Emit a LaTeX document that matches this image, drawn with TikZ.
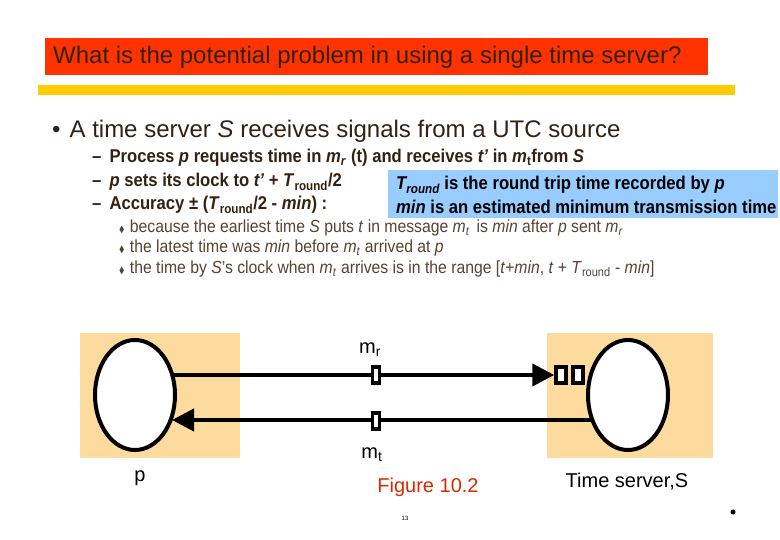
\documentclass[tikz,border=0pt]{standalone}
\usepackage{amssymb}
\usepackage{fontspec}
\setmainfont{Liberation Sans}
\usetikzlibrary{arrows.meta,shapes.geometric}
\definecolor{titlered}{HTML}{FF3300}
\definecolor{baryel}{HTML}{FFCC00}
\definecolor{txtbrown}{HTML}{332211}
\definecolor{bluebox}{HTML}{99CCFF}
\definecolor{tan}{HTML}{FDDB9E}
\definecolor{greytxt}{HTML}{554433}
\begin{document}
\begin{tikzpicture}[x=1pt,y=-1pt,
  sub/.style={anchor=west,inner sep=0,font=\fontsize{18.5}{20}\selectfont\bfseries,text=txtbrown,xscale=0.9,transform shape},
  subsub/.style={anchor=west,inner sep=0,font=\fontsize{17.5}{19}\selectfont,text=greytxt,xscale=0.9,transform shape},
  lbl/.style={inner sep=0,font=\fontsize{20}{24}\selectfont},
  msg/.style={draw,line width=3.5pt,fill=white,minimum width=7pt,minimum height=16pt,inner sep=0},
  proc/.style={draw,line width=4pt,fill=white,ellipse,minimum width=80pt,minimum height=110pt},
  conn/.style={line width=4pt,-{Triangle[length=22pt,width=22pt]}}]
\useasboundingbox (0,0) rectangle (780,540);
\fill[white] (0,0) rectangle (780,540);
\fill[titlered] (45,38) rectangle (708,75);
\node[anchor=west,inner sep=0,font=\fontsize{24}{28}\selectfont,text=txtbrown] (title) at (53,57) {What is the potential problem in using a single time server?};
\fill[baryel] (38,85) rectangle (735,95);
\node[anchor=west,inner sep=0,font=\fontsize{24}{28}\selectfont,text=txtbrown] (b1) at (52,131) {\textbullet\hspace{9pt}A time server \textit{S} receives signals from a UTC source};
\node[sub] (s1) at (92,158) {–\hspace{9pt}Process \textit{p} requests time in \textit{m}\textsubscript{\textit{r}} (t) and receives \textit{t'} in \textit{m}\textsubscript{t}from \textit{S}};
\node[sub] (s2) at (92,182) {–\hspace{9pt}\textit{p} sets its clock to \textit{t'} + \textit{T}\textsubscript{round}/2};
\node[sub] (s3) at (92,205) {–\hspace{9pt}Accuracy ± (\textit{T}\textsubscript{round}/2 - \textit{min}) :};
\fill[bluebox] (388,170) rectangle (778,218);
\node[sub,text=black] (n1) at (396,185) {\textit{T\textsubscript{round}} is the round trip time recorded by \textit{p}};
\node[sub,text=black] (n2) at (396,207) {\textit{min} is an estimated minimum transmission time};
\node[subsub] (t1) at (119,228) {\small$\blacklozenge$\hspace{6pt}\fontsize{17.5}{19}\selectfont because the earliest time \textit{S} puts \textit{t} in message \textit{m}\textsubscript{\textit{t}}\, is \textit{min} after \textit{p} sent \textit{m}\textsubscript{\textit{r}}};
\node[subsub] (t2) at (119,248) {\small$\blacklozenge$\hspace{6pt}\fontsize{17.5}{19}\selectfont the latest time was \textit{min} before \textit{m}\textsubscript{\textit{t}} arrived at \textit{p}};
\node[subsub] (t3) at (119,269) {\small$\blacklozenge$\hspace{6pt}\fontsize{17.5}{19}\selectfont the time by \textit{S}'s clock when \textit{m}\textsubscript{\textit{t}} arrives is in the range [\textit{t}+\textit{min}, \textit{t} + \textit{T}\textsubscript{round} - \textit{min}]};
\fill[tan] (80,333) rectangle (240,458);
\fill[tan] (547,333) rectangle (713,458);
\node[proc] (p) at (135,395) {};
\node[proc] (s) at (628,395) {};
\node[draw,line width=3.5pt,fill=white,minimum width=10pt,minimum height=16pt,inner sep=0] (q1) at (561,375) {};
\node[draw,line width=3.5pt,fill=white,minimum width=10pt,minimum height=16pt,inner sep=0] (q2) at (578,375) {};
\coordinate (pr) at (172,375);
\coordinate (sl) at (592,420);
\coordinate (pl) at (172,420);
\draw[conn] (pr) -- (q1.west);
\draw[conn] (sl) -- (pl);
\node[msg] (mr) at (376,375) {};
\node[msg] (mt) at (376,421) {};
\node[lbl] (lmr) at (370,350) {m\textsubscript{r}};
\node[lbl] (lmt) at (372,455) {m\textsubscript{t}};
\node[lbl] (lp) at (140,478) {p};
\node[lbl,text=titlered!85!black] (fig) at (428,487) {Figure 10.2};
\node[lbl] (ls) at (627,482) {Time server,S};
\node[inner sep=0,font=\fontsize{6}{7}\selectfont] (pg) at (405,518) {13};
\fill (733,512) circle (2.5pt);
\end{tikzpicture}
\end{document}
